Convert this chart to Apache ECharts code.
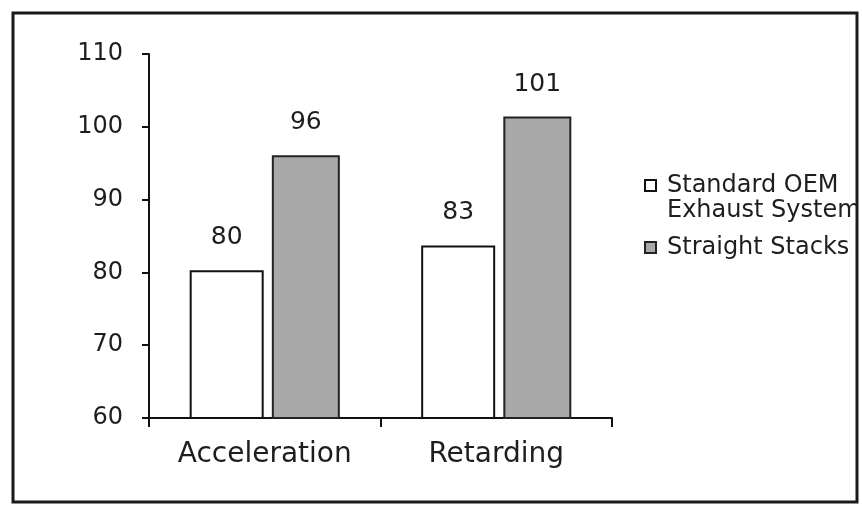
<!DOCTYPE html>
<html>
<head>
<meta charset="utf-8">
<script src="https://cdn.jsdelivr.net/npm/echarts@6/dist/echarts.min.js"></script>
<style>
html,body{margin:0;padding:0;background:#fff;}
#chart{width:862px;height:506px;}
</style>
</head>
<body>
<div id="chart"></div>
<script>
var categories = ['Acceleration', 'Retarding'];
var seriesNames = ['Standard OEM Exhaust System', 'Straight Stacks'];
var oemValues = [80.3, 83.7];
var stacksValues = [96.1, 101.4];
var oemLabels = ['80', '83'];
var stacksLabels = ['96', '101'];
var yTicks = [60, 70, 80, 90, 100, 110];

var FONT = 'DejaVu Sans';
var TXT = '#1e1e1e';
var ICON = 'path://M0,0H10V10H0Z';

var chart = echarts.init(document.getElementById('chart'), null, {renderer: 'canvas'});
chart.setOption({
  backgroundColor: '#ffffff',
  animation: false,
  grid: {left: 149, right: 250, top: 54, bottom: 88, containLabel: false},
  legend: {
    orient: 'vertical',
    left: 639,
    top: 143,
    padding: 5,
    icon: ICON,
    symbolKeepAspect: true,
    itemWidth: 23,
    itemHeight: 11,
    itemGap: 12,
    textStyle: {fontFamily: FONT, fontSize: 24, color: TXT, lineHeight: 25},
    formatter: function (name) {
      return name === seriesNames[0] ? ' \nStandard OEM\nExhaust System' : name;
    },
    data: seriesNames
  },
  xAxis: {
    type: 'category',
    data: categories,
    axisLine: {lineStyle: {color: '#111', width: 2}},
    axisTick: {show: true, length: 9, lineStyle: {color: '#111', width: 2}},
    axisLabel: {fontFamily: FONT, fontSize: 28, color: TXT, margin: 23}
  },
  yAxis: {
    type: 'value',
    min: yTicks[0],
    max: yTicks[yTicks.length - 1],
    interval: 10,
    splitLine: {show: false},
    axisLine: {show: true, lineStyle: {color: '#111', width: 2}},
    axisTick: {show: true, length: 7, lineStyle: {color: '#111', width: 2}},
    axisLabel: {fontFamily: FONT, fontSize: 24, color: TXT, margin: 26}
  },
  series: [
    {
      name: seriesNames[0],
      type: 'bar',
      data: oemValues,
      barWidth: 74,
      barGap: '11%',
      itemStyle: {color: '#ffffff', borderColor: '#111', borderWidth: 2},
      label: {
        show: true, position: 'top', distance: 20,
        fontFamily: FONT, fontSize: 25, color: TXT,
        formatter: function (p) { return oemLabels[p.dataIndex]; }
      }
    },
    {
      name: seriesNames[1],
      type: 'bar',
      data: stacksValues,
      barWidth: 68,
      itemStyle: {color: '#a9a9a9', borderColor: '#222', borderWidth: 2},
      label: {
        show: true, position: 'top', distance: 20,
        fontFamily: FONT, fontSize: 25, color: TXT,
        formatter: function (p) { return stacksLabels[p.dataIndex]; }
      }
    }
  ],
  graphic: [
    {type: 'rect', z: 100, silent: true, shape: {x: 858, y: 0, width: 10, height: 506}, style: {fill: '#ffffff'}},
    {type: 'rect', z: 101, silent: true, shape: {x: 13, y: 13, width: 844, height: 489}, style: {fill: 'none', stroke: '#1a1a1a', lineWidth: 3}}
  ]
});
</script>
</body>
</html>
